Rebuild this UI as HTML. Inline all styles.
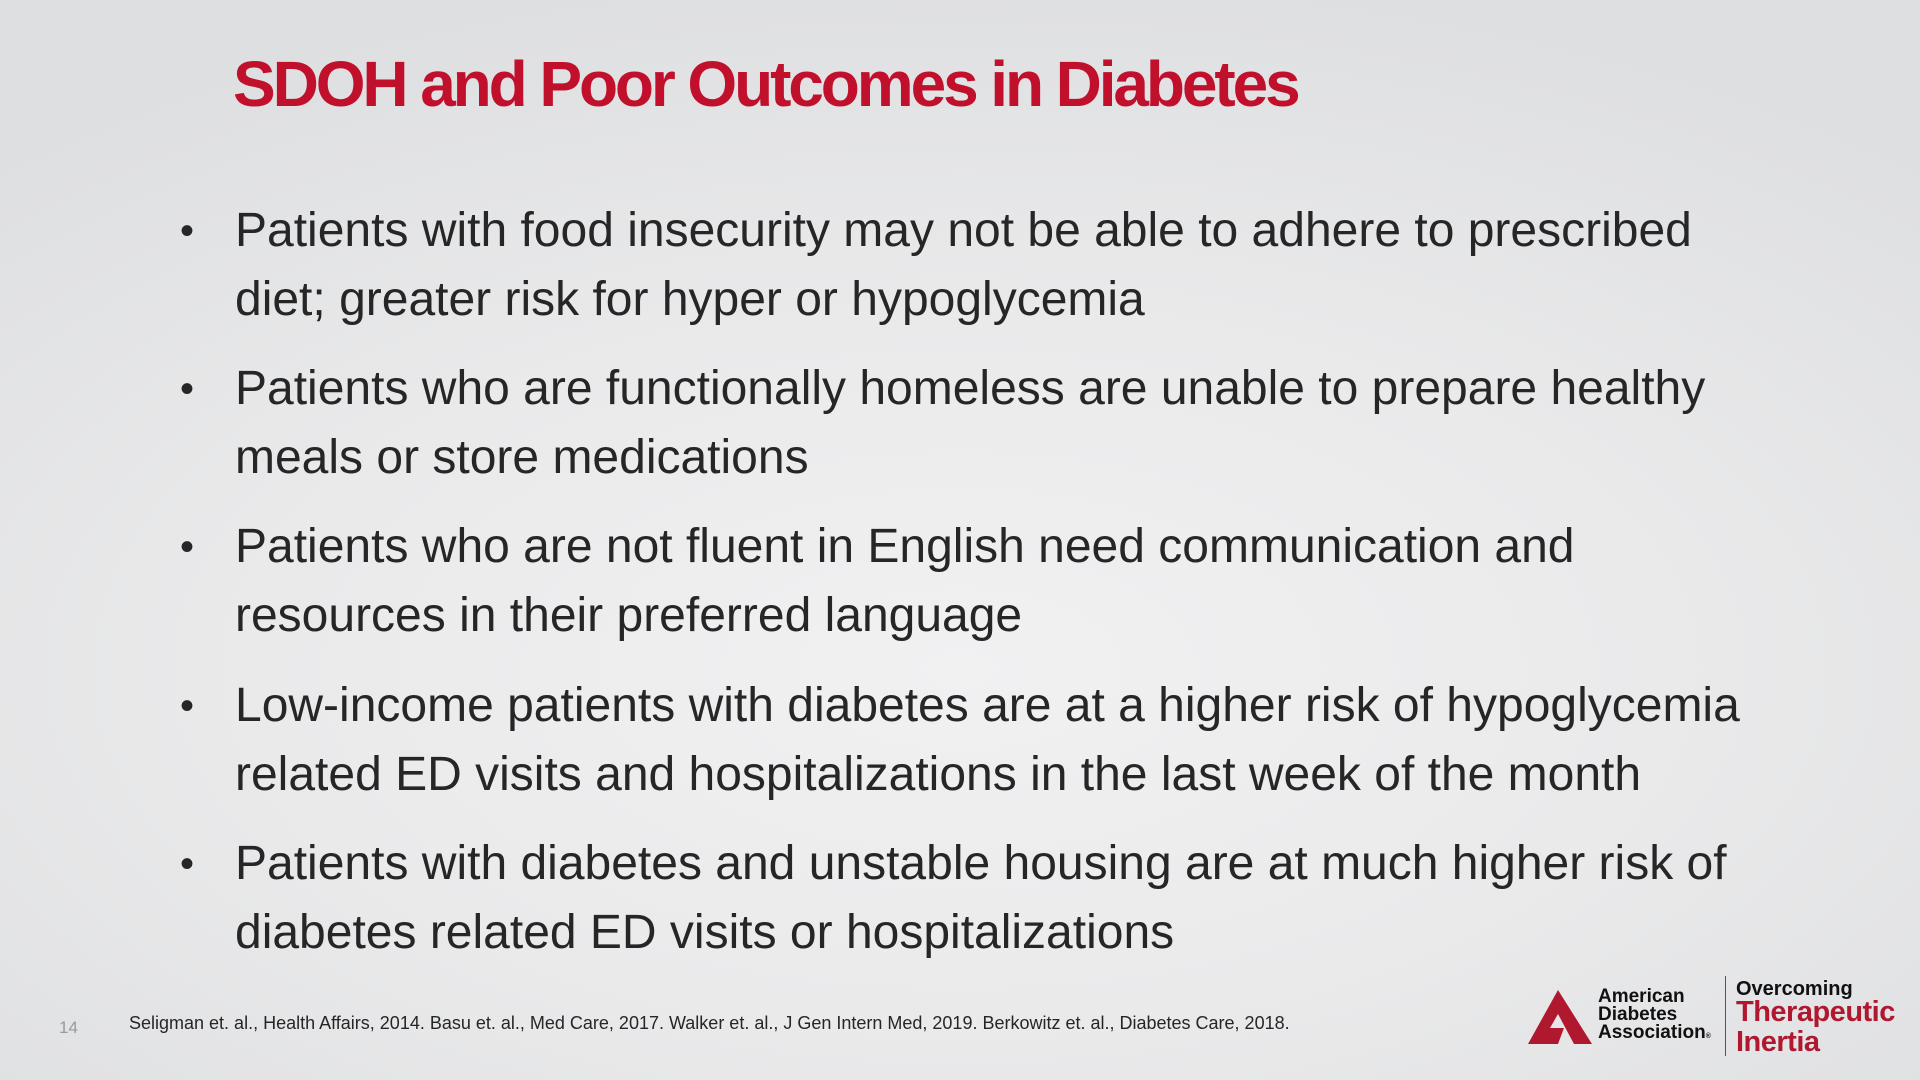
<!DOCTYPE html>
<html><head><meta charset="utf-8"><style>
html,body{margin:0;padding:0}
body{width:1920px;height:1080px;position:relative;overflow:hidden;font-family:"Liberation Sans",Arial,sans-serif;
background:radial-gradient(ellipse 1400px 700px at 50% 62%,#f1f1f2 0%,#eaeaeb 50%,#dedfe1 100%);}
.abs{position:absolute;white-space:nowrap}
#title{left:233px;top:46px;font-size:64px;font-weight:bold;color:#c1102c;letter-spacing:-3.1px;line-height:76px}
.line{position:absolute;left:235px;font-size:48px;color:#262626;line-height:50px;white-space:nowrap;letter-spacing:0px}
.dot{position:absolute;left:180px;font-size:40px;color:#262626;line-height:50px}
</style></head><body>
<div class="abs" id="title">SDOH and Poor Outcomes in Diabetes</div>

<div>
<div class="dot" style="top:206px">•</div>
<div class="line" style="top:206px">Patients with food insecurity may not be able to adhere to prescribed</div>
<div class="line" style="top:275px">diet; greater risk for hyper or hypoglycemia</div>

<div class="dot" style="top:364px">•</div>
<div class="line" style="top:364px">Patients who are functionally homeless are unable to prepare healthy</div>
<div class="line" style="top:433px">meals or store medications</div>

<div class="dot" style="top:522px">•</div>
<div class="line" style="top:522px">Patients who are not fluent in English need communication and</div>
<div class="line" style="top:591px">resources in their preferred language</div>

<div class="dot" style="top:681px">•</div>
<div class="line" style="top:681px">Low-income patients with diabetes are at a higher risk of hypoglycemia</div>
<div class="line" style="top:750px">related ED visits and hospitalizations in the last week of the month</div>

<div class="dot" style="top:839px">•</div>
<div class="line" style="top:839px">Patients with diabetes and unstable housing are at much higher risk of</div>
<div class="line" style="top:908px">diabetes related ED visits or hospitalizations</div>
</div>

<div class="abs" style="left:59px;top:1018px;font-size:17px;color:#9a9a9a">14</div>
<div class="abs" style="left:129px;top:1013px;font-size:18px;color:#262626">Seligman et. al., Health Affairs, 2014. Basu et. al., Med Care, 2017. Walker et. al., J Gen Intern Med, 2019. Berkowitz et. al., Diabetes Care, 2018.</div>

<div>
<svg class="abs" style="left:1528px;top:990px" width="64" height="56" viewBox="0 0 64 56">
<polygon points="30,0 64,54 46,54 30,24 22,38 36,38 30,54 0,54" fill="#b0182f"/>
</svg>
<div class="abs" style="left:1598px;top:988px;font-size:19px;font-weight:bold;line-height:18px;color:#111">American<br>Diabetes<br>Association<span style="font-size:7px">®</span></div>
<div class="abs" style="left:1725px;top:976px;width:1px;height:80px;background:#555"></div>
<div class="abs" style="left:1736px;top:978px;font-size:20px;font-weight:bold;color:#111">Overcoming</div>
<div class="abs" style="left:1736px;top:997px;font-size:29px;font-weight:bold;color:#b0182f;line-height:30px;letter-spacing:-0.5px">Therapeutic<br>Inertia</div>
</div>
</body></html>
